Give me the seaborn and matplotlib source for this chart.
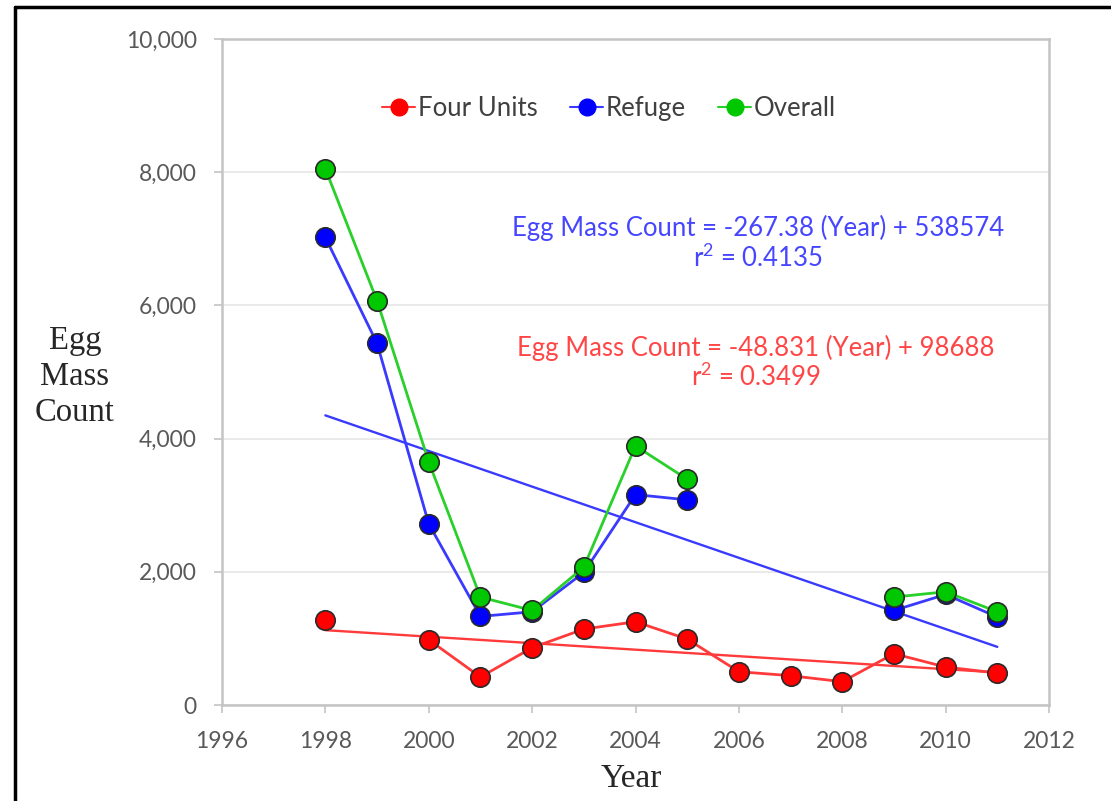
import numpy as np
import pandas as pd
import matplotlib
matplotlib.use("Agg")
import matplotlib.pyplot as plt
from matplotlib.lines import Line2D
import seaborn as sns

# ---- data ----
years = [1998, 1999, 2000, 2001, 2002, 2003, 2004, 2005, 2006, 2007, 2008, 2009, 2010, 2011]
four_units = [1280, np.nan, 980, 420, 860, 1140, 1250, 990, 500, 440, 350, 770, 570, 480]
refuge = [7020, 5430, 2720, 1330, 1400, 1990, 3160, 3080, np.nan, np.nan, np.nan, 1420, 1660, 1320]
overall = [8050, 6070, 3650, 1620, 1420, 2070, 3890, 3390, np.nan, np.nan, np.nan, 1620, 1700, 1400]
series_names = ["Four Units", "Refuge", "Overall"]
trend_refuge = (-267.38, 538574)
trend_four = (-48.831, 98688)
eq_refuge = ["Egg Mass Count = -267.38 (Year) + 538574", "r$\\mathregular{^2}$ = 0.4135"]
eq_four = ["Egg Mass Count = -48.831 (Year) + 98688", "r$\\mathregular{^2}$ = 0.3499"]
xticks = [1996, 1998, 2000, 2002, 2004, 2006, 2008, 2010, 2012]
yticks = [0, 2000, 4000, 6000, 8000, 10000]

marker_colors = {"Four Units": "#ff0000", "Refuge": "#0000ff", "Overall": "#00c800"}
line_colors = {"Four Units": "#ff3a3a", "Refuge": "#3a3aff", "Overall": "#2ad02a"}

# build long table with segment ids so gaps stay gaps
rows = []
for name, vals in zip(series_names, [four_units, refuge, overall]):
    seg = 0
    for y, v in zip(years, vals):
        if np.isnan(v):
            seg += 1
            continue
        rows.append({"Year": y, "Count": v, "series": name, "seg": f"{name}-{seg}"})
df = pd.DataFrame(rows)

sns.set_theme(style="white")
plt.rcParams["font.family"] = ["Lato", "DejaVu Sans"]

fig = plt.figure(figsize=(11.11, 8.01), dpi=100)
ax = fig.add_axes([222 / 1111, 1 - 705 / 801, (1049 - 222) / 1111, (705 - 39) / 801])

# trend lines
for (m, b), name in [(trend_refuge, "Refuge"), (trend_four, "Four Units")]:
    tx = np.array([years[0], years[-1]])
    sns.lineplot(x=tx, y=m * tx + b, ax=ax, color=line_colors[name], lw=1.7, zorder=2)

# data series
for name in series_names:
    sub = df[df["series"] == name]
    sns.lineplot(data=sub, x="Year", y="Count", units="seg", estimator=None,
                 ax=ax, color=line_colors[name], lw=2.0, marker="o", markersize=14,
                 markerfacecolor=marker_colors[name], markeredgecolor="#2a2a2a",
                 markeredgewidth=1.2, legend=False, zorder=3)

ax.set_xlim(1996, 2012)
ax.set_ylim(0, 10000)
ax.set_xticks(xticks)
ax.set_yticks(yticks)
ax.set_yticklabels([f"{v:,}" for v in yticks])
ax.grid(axis="y", color="#e6e6e6", lw=1.2)
ax.set_axisbelow(True)
for s in ax.spines.values():
    s.set_color("#c4c4c4")
    s.set_linewidth(1.8)
ax.tick_params(axis="both", colors="#c4c4c4", labelcolor="#595959", labelsize=16.5,
               length=6, width=1.2, direction="out", left=True, bottom=True)
ax.tick_params(axis="x", pad=13)
ax.tick_params(axis="y", pad=12)

ax.set_xlabel("Year", fontfamily="Liberation Serif", fontsize=24, color="#262626",
              va="center")
ax.xaxis.set_label_coords(0.495, -0.11)
ax.set_ylabel("Egg\nMass\nCount", rotation=0, fontfamily="Liberation Serif", fontsize=23.5,
              color="#262626", ha="center", va="center", linespacing=1.22)
ax.yaxis.set_label_coords(-0.178, 0.493)

# equations
eq_kw = dict(transform=ax.transAxes, ha="center", va="center", fontsize=18.5)
ax.text(0.648, 0.717, eq_refuge[0], color="#4646ff", **eq_kw)
ax.text(0.648, 0.671, eq_refuge[1], color="#4646ff", **eq_kw)
ax.text(0.646, 0.536, eq_four[0], color="#ff4646", **eq_kw)
ax.text(0.646, 0.492, eq_four[1], color="#ff4646", **eq_kw)

# legend
handles = [Line2D([0], [0], color=line_colors[n], lw=1.5, marker="o", markersize=12,
                  markerfacecolor=marker_colors[n], markeredgecolor=marker_colors[n])
           for n in series_names]
leg = ax.legend(handles, series_names, loc="center", bbox_to_anchor=(0.468, 0.896),
                ncol=3, frameon=False, fontsize=18.5, handlelength=1.3, handletextpad=0.1,
                columnspacing=1.25)
for t in leg.get_texts():
    t.set_color("#404040")

# outer border (left and top)
fig.add_artist(Line2D([15 / 1111, 15 / 1111], [0, 1 - 7 / 801], transform=fig.transFigure,
                      color="black", lw=2.5))
fig.add_artist(Line2D([15 / 1111, 1], [1 - 7 / 801, 1 - 7 / 801], transform=fig.transFigure,
                      color="black", lw=2.5))

fig.savefig("out.png", dpi=100)
